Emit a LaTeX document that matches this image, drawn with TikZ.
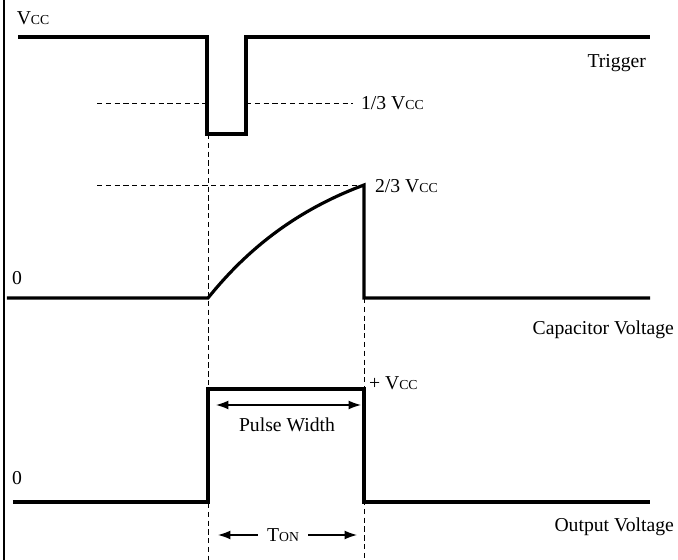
\documentclass[tikz,border=0pt]{standalone}
\usepackage{fontspec}
\setmainfont{Liberation Serif}
\usetikzlibrary{arrows.meta,positioning,calc}
\newcommand{\vcc}{V{\fontsize{7.8}{9}\selectfont CC}}
\newcommand{\ton}{T{\fontsize{7.8}{9}\selectfont ON}}

\begin{document}
\begin{tikzpicture}[
  wave/.style={line width=1.8pt, line join=miter},
  guide/.style={densely dashed, line width=0.5pt},
  lbl/.style={font=\fontsize{11.2}{13}\selectfont, inner sep=1pt},
  dim/.style={-{Latex[length=7pt,width=5pt]}, line width=0.7pt}
]
  \useasboundingbox (0,0) rectangle (13.56,11.2);
  %% Left frame line
  \draw[line width=0.6pt] (0.08,0) -- (0.08,11.2);

  %% Trigger
  \node[lbl] (vcclbl) at (0.66,10.84) {\vcc};
  \draw[wave] (0.36,10.46) -- (4.14,10.46) -- (4.14,8.52) -- (4.92,8.52) -- (4.92,10.46) -- (13.0,10.46);
  \node[lbl, anchor=east] (trig) at (12.96,9.94) {Trigger};
  \draw[guide] (1.94,9.14) -- (4.14,9.14);
  \draw[guide] (4.92,9.14) -- (7.06,9.14);
  \node[lbl, anchor=west] (third) at (7.18,9.14) {1/3 \vcc};

  %% Capacitor voltage
  \coordinate (cstart) at (4.16,5.24);
  \coordinate (cpeak) at (7.28,7.5);
  \draw[guide] (1.94,7.5) -- (cpeak);
  \node[lbl, anchor=west] (twothird) at (7.46,7.48) {2/3 \vcc};
  \node[lbl] (zeroc) at (0.34,5.64) {0};
  \draw[wave] (0.14,5.24) -- (cstart)
    -- plot[domain=0:1, samples=40] ({4.16+3.12*\x},{5.24+2.26*(1-exp(-1.2*\x))/(1-exp(-1.2))})
    -- (7.28,5.24) -- (13.0,5.24);
  \node[lbl, anchor=east] (capv) at (13.52,4.6) {Capacitor Voltage};

  %% Output voltage
  \node[lbl] (zeroo) at (0.34,1.64) {0};
  \draw[wave] (0.26,1.16) -- (4.16,1.16) -- (4.16,3.42) -- (7.28,3.42) -- (7.28,1.16) -- (13.0,1.16);
  \node[lbl, anchor=west] (plusv) at (7.34,3.54) {+ \vcc};
  \node[lbl, anchor=east] (outv) at (13.52,0.66) {Output Voltage};

  %% Timing guides
  \draw[guide] (4.16,8.52) -- (4.16,0);
  \draw[guide] (7.28,5.24) -- (7.28,0);

  %% Pulse width
  \coordinate (pwl) at (4.32,3.1);
  \coordinate (pwr) at (7.22,3.1);
  \draw[dim, {Latex[length=7pt,width=5pt]}-{Latex[length=7pt,width=5pt]}] (pwl) -- (pwr);
  \node[lbl] (pw) at (5.74,2.7) {Pulse Width};

  %% T_ON
  \node[lbl] (tonlbl) at (5.66,0.5) {\ton};
  \coordinate (tonl) at (4.36,0.5);
  \coordinate (tonr) at (7.14,0.5);
  \draw[dim] ([xshift=-4pt]tonlbl.west) -- (tonl);
  \draw[dim] ([xshift=4pt]tonlbl.east) -- (tonr);
\end{tikzpicture}
\end{document}
